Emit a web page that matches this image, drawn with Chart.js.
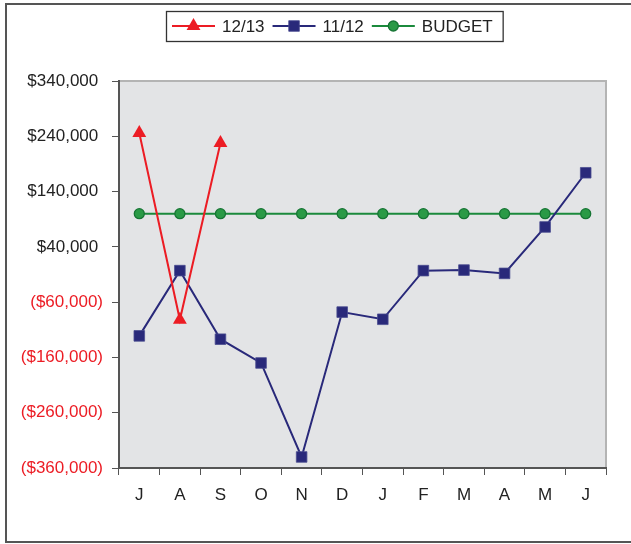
<!DOCTYPE html>
<html>
<head>
<meta charset="utf-8">
<script src="https://cdn.jsdelivr.net/npm/chart.js@4.4.1/dist/chart.umd.min.js"></script>
<style>
  html, body { margin: 0; padding: 0; background: #fff; }
  #wrap { width: 631px; height: 544px; position: relative; }
</style>
</head>
<body>
<div id="wrap"><canvas id="budgetChart" width="631" height="544"></canvas></div>
<script>
// chart data
const months = ['J', 'A', 'S', 'O', 'N', 'D', 'J', 'F', 'M', 'A', 'M', 'J'];
const seriesNames = ['12/13', '11/12', 'BUDGET'];
const fy1213 = [246000, -92000, 228000];
const fy1112 = [-121000, -3000, -127000, -170000, -340000, -78000, -91000, -3000, -2000, -8000, 76000, 174000];
const budget = [100000, 100000, 100000, 100000, 100000, 100000, 100000, 100000, 100000, 100000, 100000, 100000];
const yMin = -360000;
const yMax = 340000;
const yStep = 100000;

const RED = '#ec1c24';
const NAVY = '#29297a';
const GREEN = '#1b8a3c';
const TEXT = '#222222';
const FONT = '"Liberation Sans", Arial, sans-serif';

function money(v) {
  const s = '$' + Math.abs(v).toLocaleString('en-US');
  return v < 0 ? '(' + s + ')' : s + ' ';
}

function drawMarker(ctx, style, r, x, y) {
  if (style === 'triangle') {
    for (let k = 0; k < 3; k++) {
      const ang = k * 2 * Math.PI / 3;
      const px = x + Math.sin(ang) * r, py = y - Math.cos(ang) * r;
      k === 0 ? ctx.moveTo(px, py) : ctx.lineTo(px, py);
    }
    ctx.closePath();
  } else if (style === 'rect') {
    const s = r * Math.SQRT1_2;
    ctx.rect(x - s, y - s, 2 * s, 2 * s);
  } else {
    ctx.arc(x, y, r, 0, Math.PI * 2);
  }
}

// background, frame and custom legend
const decorPlugin = {
  id: 'decor',
  beforeDraw(chart) {
    const { ctx, chartArea: a } = chart;
    ctx.save();
    ctx.fillStyle = '#fff';
    ctx.fillRect(0, 0, chart.width, chart.height);
    ctx.fillStyle = '#e3e4e6';
    ctx.fillRect(a.left, a.top, a.right - a.left, a.bottom - a.top);
    ctx.strokeStyle = '#b4b4b4';
    ctx.lineWidth = 2;
    ctx.beginPath();
    ctx.moveTo(a.left, a.top);
    ctx.lineTo(a.right, a.top);
    ctx.lineTo(a.right, a.bottom);
    ctx.stroke();
    // outer frame
    ctx.strokeStyle = '#555';
    ctx.lineWidth = 2;
    ctx.strokeRect(6, 4, 640, 538);
    ctx.restore();
  },
  afterDraw(chart) {
    const ctx = chart.ctx;
    const top = 11, h = 30, cy = top + h / 2;
    let x = 166;
    ctx.save();
    ctx.font = '17px ' + FONT;
    ctx.textBaseline = 'middle';
    const startX = x;
    x += 6;
    chart.data.datasets.forEach(ds => {
      ctx.strokeStyle = ds.borderColor;
      ctx.lineWidth = 2;
      ctx.beginPath();
      ctx.moveTo(x, cy);
      ctx.lineTo(x + 43, cy);
      ctx.stroke();
      ctx.fillStyle = ds.pointBackgroundColor;
      ctx.strokeStyle = ds.pointBorderColor;
      ctx.lineWidth = ds.pointBorderWidth;
      ctx.beginPath();
      drawMarker(ctx, ds.pointStyle, ds.pointRadius, x + 21.5, cy);
      ctx.fill();
      if (ds.pointBorderWidth) ctx.stroke();
      x += 50;
      ctx.fillStyle = TEXT;
      ctx.fillText(ds.label, x, cy + 1);
      x += ctx.measureText(ds.label).width + 8;
    });
    ctx.strokeStyle = '#333';
    ctx.lineWidth = 1.3;
    ctx.strokeRect(startX + 0.5, top + 0.5, x - startX + 2, h);
    ctx.restore();
  }
};

const ctx = document.getElementById('budgetChart').getContext('2d');
new Chart(ctx, {
  type: 'line',
  data: {
    labels: months,
    datasets: [
      {
        label: seriesNames[0],
        data: fy1213,
        borderColor: RED,
        borderWidth: 2,
        pointStyle: 'triangle',
        pointRadius: 8,
        pointBackgroundColor: RED,
        pointBorderColor: RED,
        pointBorderWidth: 0,
        tension: 0
      },
      {
        label: seriesNames[1],
        data: fy1112,
        borderColor: NAVY,
        borderWidth: 2,
        pointStyle: 'rect',
        pointRadius: 7.5,
        pointBackgroundColor: NAVY,
        pointBorderColor: '#4a4c90',
        pointBorderWidth: 0.8,
        tension: 0
      },
      {
        label: seriesNames[2],
        data: budget,
        borderColor: GREEN,
        borderWidth: 2,
        pointStyle: 'circle',
        pointRadius: 5,
        pointBackgroundColor: '#2a9a46',
        pointBorderColor: '#167534',
        pointBorderWidth: 1.3,
        tension: 0
      }
    ]
  },
  options: {
    responsive: false,
    animation: false,
    layout: { padding: { left: 0, top: 81, right: 25, bottom: 0 } },
    plugins: {
      legend: { display: false },
      tooltip: { enabled: false }
    },
    scales: {
      x: {
        offset: true,
        grid: {
          offset: true,
          drawOnChartArea: false,
          drawTicks: true,
          tickLength: 7,
          color: '#555'
        },
        border: { color: '#555', width: 2 },
        ticks: {
          color: TEXT,
          font: { family: FONT, size: 17 },
          padding: 10,
          maxRotation: 0,
          autoSkip: false
        },
        afterFit(scale) { scale.height = 76; }
      },
      y: {
        min: yMin,
        max: yMax,
        grid: {
          drawOnChartArea: false,
          drawTicks: true,
          tickLength: 7,
          color: '#555'
        },
        border: { color: '#555', width: 2 },
        ticks: {
          stepSize: yStep,
          padding: 9,
          font: { family: FONT, size: 17 },
          color: c => c.tick.value < 0 ? RED : TEXT,
          callback: v => money(v)
        },
        afterFit(scale) { scale.width = 119; }
      }
    }
  },
  plugins: [decorPlugin]
});
</script>
</body>
</html>
